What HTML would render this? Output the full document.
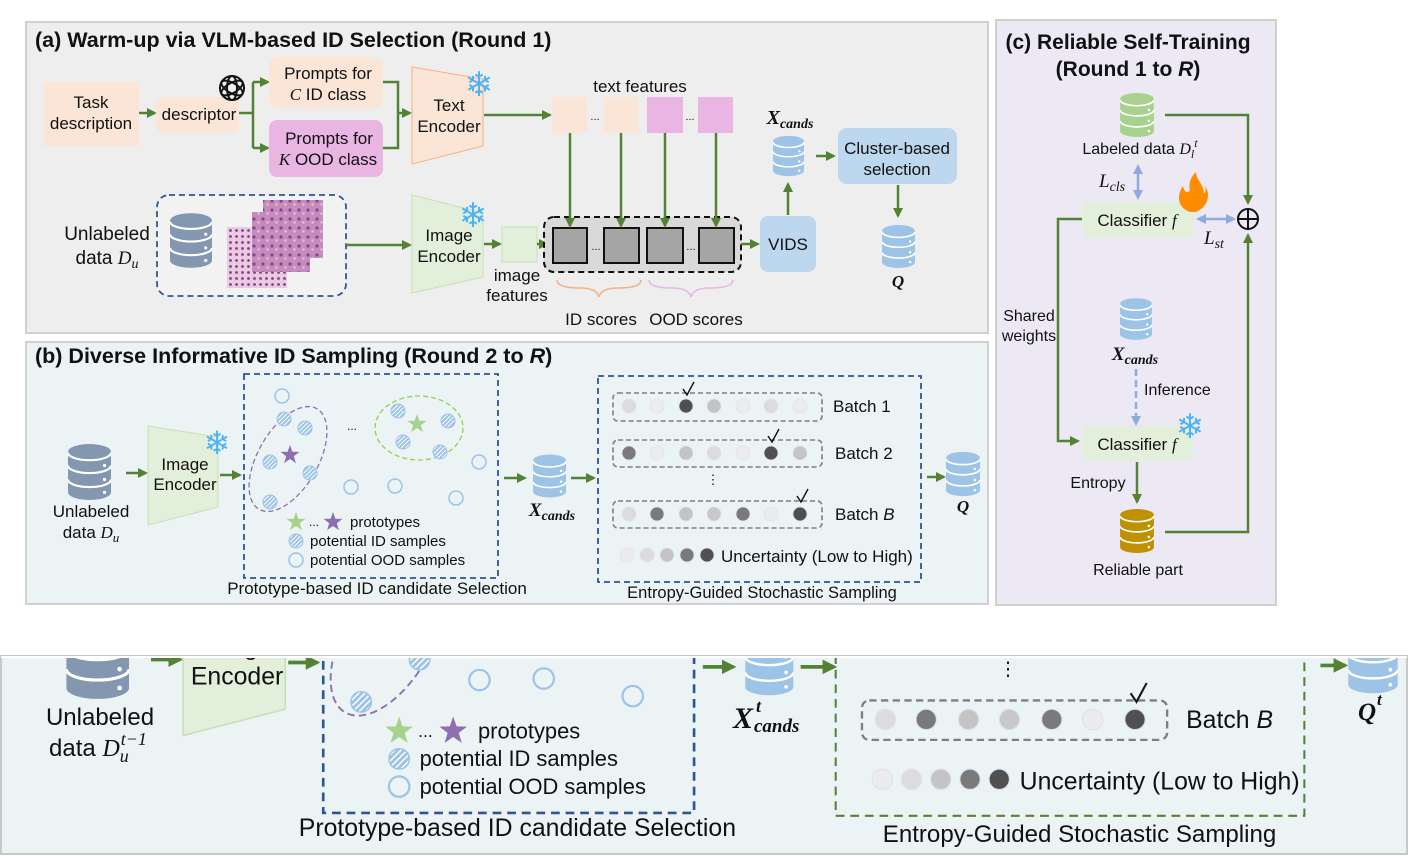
<!DOCTYPE html>
<html><head><meta charset="utf-8"><style>
html,body{margin:0;padding:0;background:#fff}
svg{display:block}
text{font-family:"Liberation Sans",Arial,sans-serif;fill:#111}
.m{font-family:"Liberation Serif",serif;font-style:italic}
.b{font-weight:bold}
</style></head><body>
<svg width="1411" height="859" viewBox="0 0 1411 859" xmlns="http://www.w3.org/2000/svg">
<defs>
<marker id="ag" viewBox="0 0 10 10" refX="8" refY="5" markerWidth="4" markerHeight="4" orient="auto"><path d="M0,0L10,5L0,10z" fill="#548235"/></marker>
<marker id="ab" viewBox="0 0 10 10" refX="8" refY="5" markerWidth="4" markerHeight="4" orient="auto-start-reverse"><path d="M0,0L10,5L0,10z" fill="#8faadc"/></marker>
<pattern id="hatch" width="3" height="3" patternUnits="userSpaceOnUse" patternTransform="rotate(45)"><rect width="3" height="3" fill="#9dc3e6"/><line x1="0.5" y1="0" x2="0.5" y2="3" stroke="#fff" stroke-width="1"/></pattern>
<pattern id="histo" width="9" height="9" patternUnits="userSpaceOnUse"><rect width="9" height="9" fill="#c58bbd"/><circle cx="2" cy="3" r="1.6" fill="#8a4483"/><circle cx="6.5" cy="6.5" r="1.2" fill="#e6c3de"/></pattern>
<pattern id="histo2" width="6" height="6" patternUnits="userSpaceOnUse"><rect width="6" height="6" fill="#e8cbe2"/><circle cx="2.5" cy="2.5" r="1.4" fill="#8a3c82"/></pattern>
<symbol id="db" viewBox="0 0 40 52">
<path d="M0,7 V45 A20,7 0 0 0 40,45 V7 Z" fill="currentColor"/>
<ellipse cx="20" cy="7" rx="20" ry="7" fill="currentColor"/>
<path d="M0,8 A20,7 0 0 0 40,8" stroke="#fff" stroke-width="2" fill="none"/>
<path d="M0,20 A20,7 0 0 0 40,20" stroke="#fff" stroke-width="2" fill="none"/>
<path d="M0,33 A20,7 0 0 0 40,33" stroke="#fff" stroke-width="2" fill="none"/>
<circle cx="34" cy="20" r="1.5" fill="#fff"/><circle cx="34" cy="33" r="1.5" fill="#fff"/><circle cx="34" cy="45" r="1.5" fill="#fff"/>
</symbol>
<polygon id="star" points="0,-10 2.35,-3.24 9.51,-3.09 3.8,1.24 5.88,8.09 0,4 -5.88,8.09 -3.8,1.24 -9.51,-3.09 -2.35,-3.24"/>
<path id="chk" d="M-5,-2 L-1,4 L6,-9" stroke="#111" stroke-width="1.4" fill="none"/>

<g id="bcommon">
 <use href="#db" x="68" y="444" width="43" height="56" style="color:#8497b0"/>
 <line x1="126" y1="473" x2="146" y2="473" stroke="#548235" stroke-width="2.5" marker-end="url(#ag)"/>
 <polygon points="148,426 218,437 218,507 148,525" fill="#e2efda" stroke="#c5e0b4" stroke-width="1"/>
 <text x="185" y="470" font-size="17" text-anchor="middle">Image</text>
 <text x="185" y="490" font-size="17" text-anchor="middle">Encoder</text>
 <text x="217" y="454" font-size="32" text-anchor="middle" style="fill:#4cb3f5">❄</text>
 <line x1="220" y1="475" x2="240" y2="475" stroke="#548235" stroke-width="2.5" marker-end="url(#ag)"/>
 <rect x="244" y="374" width="254" height="204" fill="none" stroke="#2f5597" stroke-width="1.8" stroke-dasharray="6,4"/>
 <ellipse cx="288" cy="459" rx="30" ry="58" transform="rotate(30 288 459)" fill="none" stroke="#8e6fb0" stroke-width="1.3" stroke-dasharray="5,3"/>
 <ellipse cx="419" cy="428" rx="44" ry="32" fill="none" stroke="#92d050" stroke-width="1.3" stroke-dasharray="5,3"/>
 <g fill="none" stroke="#9dc3e6" stroke-width="1.5">
  <circle cx="282" cy="396" r="7"/><circle cx="479" cy="462" r="7"/><circle cx="351" cy="487" r="7"/><circle cx="395" cy="486" r="7"/><circle cx="456" cy="498" r="7"/>
 </g>
 <g fill="url(#hatch)" stroke="#9dc3e6" stroke-width="1">
  <circle cx="284" cy="419" r="7"/><circle cx="305" cy="428" r="7"/><circle cx="270" cy="462" r="7"/><circle cx="310" cy="473" r="7"/><circle cx="270" cy="502" r="7"/>
  <circle cx="398" cy="411" r="7"/><circle cx="448" cy="421" r="7"/><circle cx="403" cy="442" r="7"/><circle cx="440" cy="452" r="7"/>
 </g>
 <use href="#star" transform="translate(290,455)" fill="#8e6fb0"/>
 <use href="#star" transform="translate(417,424)" fill="#a9d18e"/>
 <text x="352" y="430" font-size="12" text-anchor="middle">...</text>
 <use href="#star" transform="translate(296,522)" fill="#a9d18e"/>
 <text x="314" y="526" font-size="12" text-anchor="middle">...</text>
 <use href="#star" transform="translate(333,522)" fill="#8e6fb0"/>
 <text x="350" y="527" font-size="15">prototypes</text>
 <circle cx="296" cy="541" r="7" fill="url(#hatch)" stroke="#9dc3e6"/>
 <text x="310" y="546" font-size="15">potential ID samples</text>
 <circle cx="296" cy="560" r="7" fill="none" stroke="#9dc3e6" stroke-width="1.5"/>
 <text x="310" y="565" font-size="15">potential OOD samples</text>
 <text x="377" y="594" font-size="17" text-anchor="middle">Prototype-based ID candidate Selection</text>
 <line x1="504" y1="478" x2="525" y2="478" stroke="#548235" stroke-width="2.5" marker-end="url(#ag)"/>
 <use href="#db" x="533" y="454" width="33" height="44" style="color:#9dc3e6"/>
 <line x1="571" y1="478" x2="594" y2="478" stroke="#548235" stroke-width="2.5" marker-end="url(#ag)"/>
 <g fill="none" stroke="#7f7f7f" stroke-width="1.6" stroke-dasharray="5,3">
  <rect x="613" y="393" width="209" height="28" rx="5"/>
  <rect x="613" y="440" width="209" height="27" rx="5"/>
  <rect x="613" y="501" width="209" height="27" rx="5"/>
 </g>
 <g stroke="#dae3f3" stroke-width="0.8">
  <circle cx="629" cy="406" r="7" fill="#dcdcdc"/><circle cx="657" cy="406" r="7" fill="#ececec"/><circle cx="686" cy="406" r="7" fill="#505050"/><circle cx="714" cy="406" r="7" fill="#c4c4c4"/><circle cx="743" cy="406" r="7" fill="#ececec"/><circle cx="771" cy="406" r="7" fill="#dcdcdc"/><circle cx="800" cy="406" r="7" fill="#ececec"/>
  <circle cx="629" cy="453" r="7" fill="#7a7a7a"/><circle cx="657" cy="453" r="7" fill="#ececec"/><circle cx="686" cy="453" r="7" fill="#c4c4c4"/><circle cx="714" cy="453" r="7" fill="#dcdcdc"/><circle cx="743" cy="453" r="7" fill="#ececec"/><circle cx="771" cy="453" r="7" fill="#505050"/><circle cx="800" cy="453" r="7" fill="#c4c4c4"/>
  <circle cx="629" cy="514" r="7" fill="#dcdcdc"/><circle cx="657" cy="514" r="7" fill="#7a7a7a"/><circle cx="686" cy="514" r="7" fill="#c4c4c4"/><circle cx="714" cy="514" r="7" fill="#c8c8c8"/><circle cx="743" cy="514" r="7" fill="#7a7a7a"/><circle cx="771" cy="514" r="7" fill="#ececec"/><circle cx="800" cy="514" r="7" fill="#505050"/>
  <circle cx="627" cy="555" r="7" fill="#ececec"/><circle cx="647" cy="555" r="7" fill="#dcdcdc"/><circle cx="667" cy="555" r="7" fill="#c4c4c4"/><circle cx="687" cy="555" r="7" fill="#7a7a7a"/><circle cx="707" cy="555" r="7" fill="#505050"/>
 </g>
 <use href="#chk" transform="translate(688,391)"/>
 <use href="#chk" transform="translate(773,438)"/>
 <use href="#chk" transform="translate(802,498)"/>
 <text x="833" y="412" font-size="17">Batch 1</text>
 <text x="835" y="459" font-size="17">Batch 2</text>
 <text x="835" y="520" font-size="17">Batch <tspan font-style="italic">B</tspan></text>
 <text x="713" y="484" font-size="13" text-anchor="middle">⋮</text>
 <text x="721" y="562" font-size="17">Uncertainty (Low to High)</text>
 <text x="762" y="598" font-size="16.5" text-anchor="middle">Entropy-Guided Stochastic Sampling</text>
 <line x1="927" y1="477" x2="944" y2="477" stroke="#548235" stroke-width="2.5" marker-end="url(#ag)"/>
 <use href="#db" x="946" y="451" width="34" height="46" style="color:#9dc3e6"/>
</g>
<clipPath id="botclip"><rect x="0" y="657" width="1411" height="202"/></clipPath>
</defs>

<!-- Panel a -->
<rect x="26" y="22" width="962" height="311" fill="#eeeeee" stroke="#d0d0d0" stroke-width="2"/>
<text x="35" y="47" font-size="21.5" class="b">(a) Warm-up via VLM-based ID Selection (Round 1)</text>
<rect x="44" y="82" width="95" height="64" fill="#fbe5d6"/>
<text x="91" y="108" font-size="17" text-anchor="middle">Task</text>
<text x="91" y="129" font-size="17" text-anchor="middle">description</text>
<line x1="139" y1="113" x2="155" y2="113" stroke="#548235" stroke-width="2.5" marker-end="url(#ag)"/>
<rect x="156" y="97" width="83" height="35" rx="6" fill="#fbe5d6"/>
<text x="199" y="120" font-size="17" text-anchor="middle">descriptor</text>
<g transform="translate(232,88)" fill="none" stroke="#111" stroke-width="2">
 <circle r="12"/><ellipse rx="5" ry="12"/><ellipse rx="5" ry="12" transform="rotate(60)"/><ellipse rx="5" ry="12" transform="rotate(120)"/>
</g>
<path d="M239,113 H253 V82 M253,113 V148" stroke="#548235" stroke-width="2.5" fill="none"/>
<line x1="253" y1="82" x2="268" y2="82" stroke="#548235" stroke-width="2.5" marker-end="url(#ag)"/>
<line x1="253" y1="148" x2="268" y2="148" stroke="#548235" stroke-width="2.5" marker-end="url(#ag)"/>
<rect x="269" y="57" width="114" height="51" rx="8" fill="#fbe5d6"/>
<text x="328" y="79" font-size="17" text-anchor="middle">Prompts for</text>
<text x="328" y="100" font-size="17" text-anchor="middle"><tspan class="m">C</tspan> ID class</text>
<rect x="269" y="120" width="114" height="57" rx="8" fill="#e9b6e4"/>
<text x="329" y="144" font-size="17" text-anchor="middle">Prompts for</text>
<text x="328" y="165" font-size="17" text-anchor="middle"><tspan class="m">K</tspan> OOD class</text>
<path d="M383,82 H398 V148 H383 M398,113 H410" stroke="#548235" stroke-width="2.5" fill="none" marker-end="url(#ag)"/>
<polygon points="412,67 483,79 483,146 412,164" fill="#fbe5d6" stroke="#f4b183" stroke-width="1"/>
<text x="449" y="111" font-size="17" text-anchor="middle">Text</text>
<text x="449" y="132" font-size="17" text-anchor="middle">Encoder</text>
<text x="479" y="96" font-size="34" text-anchor="middle" style="fill:#4cb3f5">❄</text>
<line x1="484" y1="115" x2="550" y2="115" stroke="#548235" stroke-width="2.5" marker-end="url(#ag)"/>
<text x="640" y="92" font-size="17" text-anchor="middle">text  features</text>
<rect x="552" y="97" width="35" height="36" fill="#fbe5d6"/>
<rect x="604" y="97" width="35" height="36" fill="#fbe5d6"/>
<rect x="647" y="97" width="36" height="36" fill="#e9b6e4"/>
<rect x="698" y="97" width="35" height="36" fill="#e9b6e4"/>
<text x="595" y="120" font-size="11" text-anchor="middle">...</text>
<text x="690" y="120" font-size="11" text-anchor="middle">...</text>
<!-- image row -->
<rect x="157" y="195" width="189" height="101" rx="12" fill="#f2f2f2" stroke="#2f5597" stroke-width="1.8" stroke-dasharray="6,4"/>
<use href="#db" x="170" y="213" width="42" height="55" style="color:#8497b0"/>
<rect x="227" y="227" width="60" height="61" fill="url(#histo2)"/>
<rect x="252" y="212" width="58" height="60" fill="url(#histo)"/>
<rect x="263" y="200" width="60" height="58" fill="url(#histo)"/>
<text x="107" y="240" font-size="19" text-anchor="middle">Unlabeled</text>
<text x="107" y="264" font-size="19" text-anchor="middle">data <tspan class="m">D</tspan><tspan class="m" font-size="14" dy="4">u</tspan></text>
<line x1="346" y1="245" x2="410" y2="245" stroke="#548235" stroke-width="2.5" marker-end="url(#ag)"/>
<polygon points="412,195 483,213 483,277 412,293" fill="#e2efda" stroke="#c5e0b4" stroke-width="1"/>
<text x="449" y="241" font-size="17" text-anchor="middle">Image</text>
<text x="449" y="262" font-size="17" text-anchor="middle">Encoder</text>
<text x="473" y="227" font-size="34" text-anchor="middle" style="fill:#4cb3f5">❄</text>
<line x1="484" y1="244" x2="500" y2="244" stroke="#548235" stroke-width="2.5" marker-end="url(#ag)"/>
<rect x="502" y="227" width="35" height="35" fill="#e2efda" stroke="#c5e0b4"/>
<text x="517" y="281" font-size="17" text-anchor="middle">image</text>
<text x="517" y="301" font-size="17" text-anchor="middle">features</text>
<line x1="537" y1="244" x2="547" y2="244" stroke="#548235" stroke-width="2.5" marker-end="url(#ag)"/>
<rect x="544" y="217" width="197" height="55" rx="10" fill="#d9d9d9" stroke="#111" stroke-width="2" stroke-dasharray="6,4"/>
<g fill="#a6a6a6" stroke="#111" stroke-width="2">
 <rect x="553" y="228" width="34" height="35"/><rect x="604" y="228" width="35" height="35"/><rect x="647" y="228" width="36" height="35"/><rect x="699" y="228" width="35" height="35"/>
</g>
<text x="596" y="250" font-size="11" text-anchor="middle">...</text>
<text x="691" y="250" font-size="11" text-anchor="middle">...</text>
<g stroke="#548235" stroke-width="2.5" marker-end="url(#ag)">
 <line x1="570" y1="133" x2="570" y2="226"/><line x1="621" y1="133" x2="621" y2="226"/><line x1="665" y1="133" x2="665" y2="226"/><line x1="716" y1="133" x2="716" y2="226"/>
</g>
<path d="M557,280 Q557,288 580,288 Q597,288 599,297 Q601,288 618,288 Q641,288 641,280" fill="none" stroke="#f4b183" stroke-width="1.6"/>
<path d="M649,280 Q649,288 672,288 Q689,288 691,297 Q693,288 710,288 Q733,288 733,280" fill="none" stroke="#e9b6e4" stroke-width="1.6"/>
<text x="601" y="325" font-size="17" text-anchor="middle">ID scores</text>
<text x="696" y="325" font-size="17" text-anchor="middle">OOD scores</text>
<line x1="741" y1="244" x2="758" y2="244" stroke="#548235" stroke-width="2.5" marker-end="url(#ag)"/>
<rect x="760" y="216" width="56" height="56" rx="8" fill="#bdd7ee"/>
<text x="788" y="250" font-size="17" text-anchor="middle">VIDS</text>
<line x1="788" y1="215" x2="788" y2="184" stroke="#548235" stroke-width="2.5" marker-end="url(#ag)"/>
<text x="790" y="124" font-size="20" class="m b" text-anchor="middle">X<tspan font-size="14" dy="4">cands</tspan></text>
<use href="#db" x="773" y="135" width="31" height="42" style="color:#9dc3e6"/>
<line x1="816" y1="156" x2="834" y2="156" stroke="#548235" stroke-width="2.5" marker-end="url(#ag)"/>
<rect x="838" y="128" width="119" height="56" rx="9" fill="#bdd7ee"/>
<text x="897" y="154" font-size="17" text-anchor="middle">Cluster-based</text>
<text x="897" y="175" font-size="17" text-anchor="middle">selection</text>
<line x1="898" y1="185" x2="898" y2="216" stroke="#548235" stroke-width="2.5" marker-end="url(#ag)"/>
<use href="#db" x="882" y="224" width="33" height="45" style="color:#9dc3e6"/>
<text x="898" y="287" font-size="17" class="m b" text-anchor="middle">Q</text>

<!-- Panel b -->
<rect x="26" y="342" width="962" height="262" fill="#ebf3f5" stroke="#d0d0d0" stroke-width="2"/>
<text x="35" y="363" font-size="21.5" class="b">(b) Diverse Informative ID Sampling (Round 2 to <tspan font-style="italic">R</tspan>)</text>
<use href="#bcommon"/>
<rect x="598" y="376" width="323" height="206" fill="none" stroke="#2f5597" stroke-width="1.8" stroke-dasharray="6,4"/>
<text x="91" y="517" font-size="17" text-anchor="middle">Unlabeled</text>
<text x="91" y="538" font-size="17" text-anchor="middle">data <tspan class="m">D</tspan><tspan class="m" font-size="13" dy="4">u</tspan></text>
<text x="552" y="516" font-size="19" class="m b" text-anchor="middle">X<tspan font-size="14" dy="4">cands</tspan></text>
<text x="963" y="512" font-size="17" class="m b" text-anchor="middle">Q</text>

<!-- Panel c -->
<rect x="996" y="20" width="280" height="585" fill="#ede9f4" stroke="#d0d0d0" stroke-width="2"/>
<text x="1128" y="49" font-size="21" class="b" text-anchor="middle">(c) Reliable Self-Training</text>
<text x="1128" y="76" font-size="21" class="b" text-anchor="middle">(Round 1 to <tspan font-style="italic">R</tspan>)</text>
<use href="#db" x="1120" y="93" width="34" height="44" style="color:#a9d18e"/>
<text x="1140" y="154" font-size="16" text-anchor="middle">Labeled data <tspan class="m">D</tspan><tspan class="m" font-size="12" dy="4">l</tspan><tspan class="m" font-size="12" dy="-11">t</tspan></text>
<path d="M1165,115 H1248 V203" stroke="#548235" stroke-width="2.5" fill="none" marker-end="url(#ag)"/>
<path d="M1165,532 H1248 V235" stroke="#548235" stroke-width="2.5" fill="none" marker-end="url(#ag)"/>
<circle cx="1248" cy="219" r="10" fill="none" stroke="#111" stroke-width="2"/>
<path d="M1238,219 H1258 M1248,209 V229" stroke="#111" stroke-width="2"/>
<line x1="1138" y1="166" x2="1138" y2="198" stroke="#8faadc" stroke-width="2.5" marker-start="url(#ab)" marker-end="url(#ab)"/>
<text x="1099" y="187" font-size="19" class="m">L<tspan font-size="14" dy="4">cls</tspan></text>
<rect x="1082" y="202" width="111" height="36" rx="7" fill="#e2efda"/>
<text x="1137" y="226" font-size="17" text-anchor="middle">Classifier <tspan class="m">f</tspan></text>
<path d="M1190,212 C1178,208 1176,196 1183,186 C1184,192 1188,194 1190,190 C1188,182 1192,176 1196,172 C1196,180 1204,184 1204,194 C1206,192 1206,188 1205,186 C1210,192 1210,206 1196,212 Z" fill="#ff8c00"/>
<line x1="1198" y1="219" x2="1234" y2="219" stroke="#8faadc" stroke-width="2.5" marker-start="url(#ab)" marker-end="url(#ab)"/>
<text x="1204" y="244" font-size="19" class="m">L<tspan font-size="14" dy="4">st</tspan></text>
<path d="M1082,219 H1058 V441 H1078" stroke="#548235" stroke-width="2.5" fill="none" marker-end="url(#ag)"/>
<text x="1029" y="321" font-size="16" text-anchor="middle">Shared</text>
<text x="1029" y="341" font-size="16" text-anchor="middle">weights</text>
<use href="#db" x="1120" y="297" width="32" height="44" style="color:#9dc3e6"/>
<text x="1135" y="360" font-size="19" class="m b" text-anchor="middle">X<tspan font-size="14" dy="4">cands</tspan></text>
<line x1="1136" y1="369" x2="1136" y2="424" stroke="#8faadc" stroke-width="2.5" stroke-dasharray="7,4" marker-end="url(#ab)"/>
<text x="1144" y="395" font-size="16">Inference</text>
<rect x="1082" y="426" width="111" height="35" rx="7" fill="#e2efda"/>
<text x="1137" y="450" font-size="17" text-anchor="middle">Classifier <tspan class="m">f</tspan></text>
<text x="1190" y="438" font-size="34" text-anchor="middle" style="fill:#4cb3f5">❄</text>
<text x="1098" y="488" font-size="16" text-anchor="middle">Entropy</text>
<line x1="1137" y1="462" x2="1137" y2="502" stroke="#548235" stroke-width="2.5" marker-end="url(#ag)"/>
<use href="#db" x="1120" y="509" width="34" height="44" style="color:#bf9000"/>
<text x="1138" y="575" font-size="16" text-anchor="middle">Reliable part</text>

<!-- Bottom zoomed strip -->
<rect x="1" y="656" width="1406" height="198" fill="#ebf3f5" stroke="#c8c8c8" stroke-width="2"/>
<g clip-path="url(#botclip)">
 <g transform="translate(-33,-31) scale(1.46)">
  <use href="#bcommon"/>
  <rect x="595" y="376" width="321" height="204" fill="none" stroke="#548235" stroke-width="1.4" stroke-dasharray="6,4"/>
 </g>
</g>
<text x="100" y="725" font-size="24" text-anchor="middle">Unlabeled</text>
<text x="98" y="756" font-size="24" text-anchor="middle">data <tspan class="m">D</tspan><tspan class="m" font-size="18" dy="6">u</tspan><tspan class="m" font-size="18" dx="-8" dy="-17">t−1</tspan></text>
<text x="733" y="728" font-size="30" class="m b">X</text>
<text x="756" y="712" font-size="18" class="m b">t</text>
<text x="754" y="732" font-size="19" class="m b">cands</text>
<text x="1358" y="720" font-size="25" class="m b">Q</text>
<text x="1377" y="705" font-size="17" class="m b">t</text>
<rect x="1" y="656" width="1406" height="2" fill="#fff"/>
</svg>
</body></html>
